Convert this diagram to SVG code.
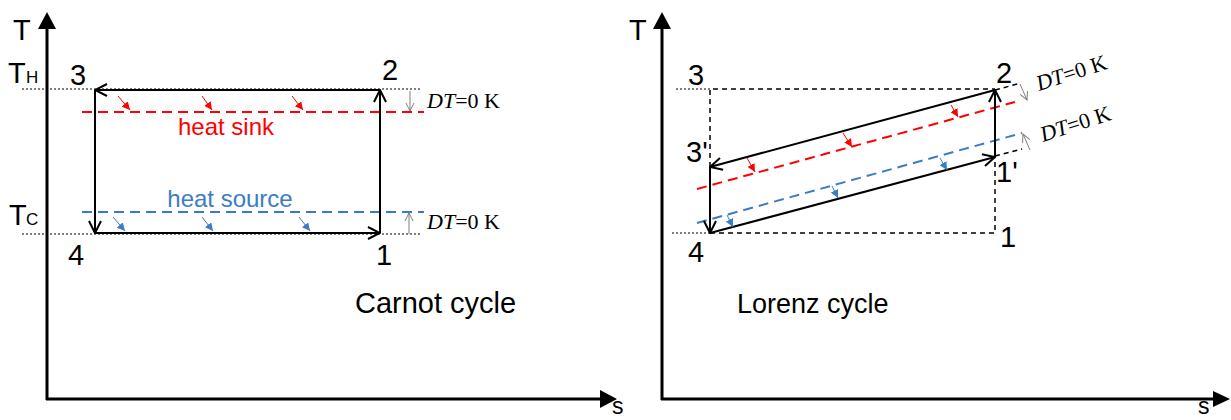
<svg xmlns="http://www.w3.org/2000/svg" width="1231" height="420" viewBox="0 0 1231 420">
<style>
.lbl{font-family:"Liberation Sans",Arial,sans-serif;font-size:29px;fill:#000}
.sub{font-family:"Liberation Sans",Arial,sans-serif;font-size:17px;fill:#000}
.sx{font-family:"Liberation Sans",Arial,sans-serif;font-size:23px;fill:#000}
.dt{font-family:"Liberation Serif","Times New Roman",serif;font-size:22px;fill:#000}
.axis{stroke:#000;stroke-width:3;fill:none}
.cyc{stroke:#000;stroke-width:2;fill:none;marker-end:url(#open)}
.dot{stroke:#000;stroke-width:1;stroke-dasharray:2,2;fill:none}
.dash{stroke:#000;stroke-width:1.5;stroke-dasharray:5,4;fill:none}
.red{stroke:#FF0000;stroke-width:2;stroke-dasharray:10,6;fill:none}
.blue{stroke:#3B7DC4;stroke-width:2;stroke-dasharray:10,6;fill:none}
.ra{stroke:#FF0000;stroke-width:1;fill:none;marker-end:url(#rh)}
.ba{stroke:#3B7DC4;stroke-width:1;fill:none;marker-end:url(#bh)}
.ga{stroke:#808080;stroke-width:1;fill:none;marker-end:url(#gh)}
</style>
<defs>
<marker id="open" markerUnits="userSpaceOnUse" viewBox="0 0 14 14" refX="13" refY="7" markerWidth="14" markerHeight="14" orient="auto">
<path d="M1,1 L13,7 L1,13" stroke="#000" stroke-width="2" fill="none"/>
</marker>
<marker id="rh" markerUnits="userSpaceOnUse" viewBox="0 0 8 8" refX="8" refY="4" markerWidth="8" markerHeight="8" orient="auto">
<path d="M0,0 L8,4 L0,8 z" fill="#FF0000"/>
</marker>
<marker id="bh" markerUnits="userSpaceOnUse" viewBox="0 0 8 8" refX="8" refY="4" markerWidth="8" markerHeight="8" orient="auto">
<path d="M0,0 L8,4 L0,8 z" fill="#3B7DC4"/>
</marker>
<marker id="gh" markerUnits="userSpaceOnUse" viewBox="0 0 10 10" refX="9" refY="5" markerWidth="10" markerHeight="10" orient="auto">
<path d="M1,1 L9,5 L1,9" stroke="#808080" stroke-width="1" fill="none"/>
</marker>
</defs>
<rect width="1231" height="420" fill="#fff"/>

<g id="carnot-axes">
<line class="axis" x1="47" y1="400" x2="47" y2="27"/>
<polygon points="38,29 56,29 47,12" fill="#000"/>
<line class="axis" x1="46" y1="399" x2="602" y2="399"/>
<polygon points="600,390 600,408 617,399" fill="#000"/>
<text class="lbl" x="13" y="40">T</text>
<text class="sx" x="612" y="414">s</text>
</g>

<g id="carnot-guides">
<line class="dot" x1="22" y1="89" x2="422" y2="89"/>
<line class="dot" x1="22" y1="234" x2="422" y2="234"/>
<line class="red" x1="82" y1="112" x2="424" y2="112"/>
<line class="blue" x1="82" y1="212" x2="424" y2="212"/>
</g>

<g id="carnot-cycle">
<line class="cyc" x1="380" y1="90" x2="95" y2="90"/>
<line class="cyc" x1="95" y1="90" x2="95" y2="233"/>
<line class="cyc" x1="95" y1="233" x2="380" y2="233"/>
<line class="cyc" x1="380" y1="233" x2="380" y2="90"/>
</g>

<g id="carnot-heat-arrows">
<line class="ra" x1="118" y1="96" x2="130" y2="110"/>
<line class="ra" x1="202" y1="96" x2="212" y2="110"/>
<line class="ra" x1="292" y1="96" x2="303" y2="110"/>
<line class="ba" x1="113" y1="217" x2="125" y2="231"/>
<line class="ba" x1="202" y1="217" x2="213" y2="231"/>
<line class="ba" x1="299" y1="217" x2="310" y2="231"/>
<line class="ga" x1="410" y1="91" x2="410" y2="111"/>
<line class="ga" x1="409" y1="234" x2="409" y2="213"/>
</g>

<g id="carnot-labels">
<text class="lbl" x="8" y="83">T</text><text class="sub" x="26" y="83">H</text>
<text class="lbl" x="9" y="225">T</text><text class="sub" x="26" y="225">C</text>
<text class="lbl" x="70" y="85">3</text>
<text class="lbl" x="382" y="80">2</text>
<text class="lbl" x="68" y="265">4</text>
<text class="lbl" x="376" y="265">1</text>
<text x="226" y="135" text-anchor="middle" font-family="Liberation Sans, Arial, sans-serif" font-size="24" fill="#FF0000">heat sink</text>
<text x="230" y="207" text-anchor="middle" font-family="Liberation Sans, Arial, sans-serif" font-size="24" fill="#3B7DC4">heat source</text>
<text class="dt" x="427" y="108"><tspan font-style="italic">DT</tspan>=0 K</text>
<text class="dt" x="427" y="229"><tspan font-style="italic">DT</tspan>=0 K</text>
<text class="lbl" x="355" y="313">Carnot cycle</text>
</g>

<g id="lorenz-axes">
<line class="axis" x1="662" y1="400" x2="662" y2="27"/>
<polygon points="653,29 671,29 662,12" fill="#000"/>
<line class="axis" x1="661" y1="399" x2="1215" y2="399"/>
<polygon points="1213,391 1213,407 1230,399" fill="#000"/>
<text class="lbl" x="629" y="40">T</text>
<text class="sx" x="1198" y="414">s</text>
</g>

<g id="lorenz-guides">
<line class="dot" x1="676" y1="89" x2="710" y2="89"/>
<line class="dot" x1="672" y1="233" x2="710" y2="233"/>
<polyline class="dash" points="710,167 710,89 995,89"/>
<polyline class="dash" points="710,233 995,233 995,157"/>
<line class="dash" x1="995" y1="90" x2="1021" y2="83"/>
<line class="dash" x1="995" y1="156" x2="1022" y2="149"/>
<line class="red" x1="697" y1="189" x2="1015" y2="102"/>
<line class="blue" x1="697" y1="223" x2="1022" y2="133"/>
</g>

<g id="lorenz-cycle">
<line class="cyc" x1="995" y1="90" x2="710" y2="167"/>
<line class="cyc" x1="710" y1="167" x2="710" y2="233"/>
<line class="cyc" x1="710" y1="233" x2="995" y2="157"/>
<line class="cyc" x1="995" y1="157" x2="995" y2="90"/>
</g>

<g id="lorenz-heat-arrows">
<line class="ra" x1="747" y1="158" x2="755" y2="172"/>
<line class="ra" x1="843" y1="133" x2="852" y2="147"/>
<line class="ra" x1="951" y1="105" x2="958" y2="117"/>
<line class="ba" x1="727" y1="215" x2="733" y2="227"/>
<line class="ba" x1="832" y1="186" x2="838" y2="198"/>
<line class="ba" x1="940" y1="158" x2="947" y2="170"/>
<line class="ga" x1="1020" y1="84" x2="1027" y2="100"/>
<line class="ga" x1="1030" y1="150" x2="1023" y2="134"/>
</g>

<g id="lorenz-labels">
<text class="lbl" x="688" y="85">3</text>
<text class="lbl" x="686" y="162">3'</text>
<text class="lbl" x="688" y="262">4</text>
<text class="lbl" x="996" y="83">2</text>
<text class="lbl" x="996" y="182">1'</text>
<text class="lbl" x="1000" y="247">1</text>
<text class="dt" transform="translate(1039,91) rotate(-18)"><tspan font-style="italic">DT</tspan>=0 K</text>
<text class="dt" transform="translate(1043,142) rotate(-18)"><tspan font-style="italic">DT</tspan>=0 K</text>
<text class="lbl" x="737" y="313" style="font-size:27px">Lorenz cycle</text>
</g>
</svg>
